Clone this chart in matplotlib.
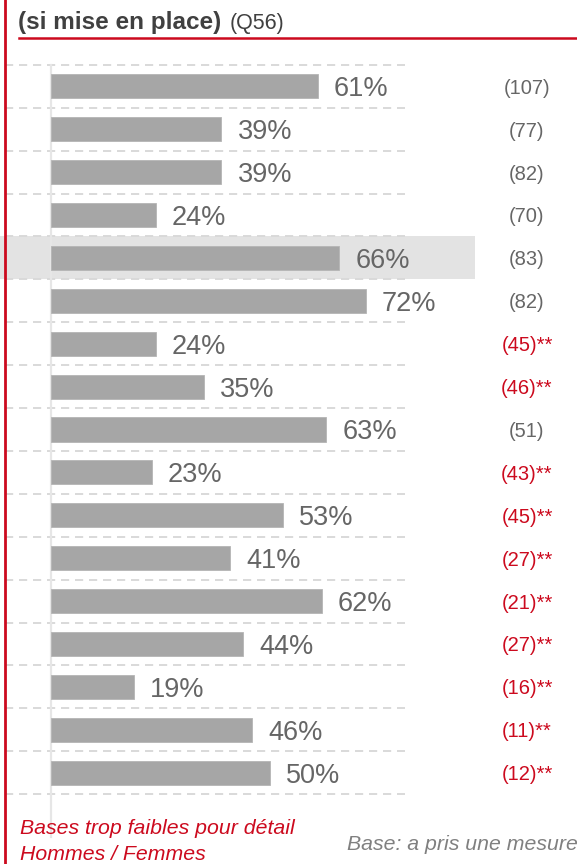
import matplotlib
matplotlib.use("Agg")
import matplotlib.pyplot as plt
from matplotlib.lines import Line2D

plt.rcParams['font.family'] = ['Liberation Sans', 'DejaVu Sans']

# ---- data ----
values = [61, 39, 39, 24, 66, 72, 24, 35, 63, 23, 53, 41, 62, 44, 19, 46, 50]
bases = [107, 77, 82, 70, 83, 82, 45, 46, 51, 43, 45, 27, 21, 27, 16, 11, 12]
low_base = [False, False, False, False, False, False, True, True, False,
            True, True, True, True, True, True, True, True]
highlight_row = 4
title_bold = "(si mise en place)"
title_q = "(Q56)"
note_lines = ["Bases trop faibles pour détail", "Hommes / Femmes"]
base_note = "Base: a pris une mesure"

# ---- colours ----
RED = "#cc0a1e"
BAR = "#a6a6a6"
GRID = "#d9d9d9"
LABEL = "#666666"

W, H = 577, 864
fig = plt.figure(figsize=(W / 100, H / 100), dpi=100)
ax = fig.add_axes([0, 0, 1, 1])

# pixel layout -> data scale
x0_px, px_per_pct = 51, 4.37
row0_px, row_px = 86.3, 42.9
ax.set_xlim(-x0_px / px_per_pct, (W - x0_px) / px_per_pct)
ax.set_ylim((H - row0_px) / row_px, -row0_px / row_px)
ax.axis("off")

def px2v(px):
    return (px - x0_px) / px_per_pct

n = len(values)
rows = list(range(n))

# highlight band
ax.axhspan(highlight_row - 0.5, highlight_row + 0.5, xmin=0, xmax=475 / W,
           color="#e3e3e3", zorder=0, lw=0)

# dashed gridlines
for b in [r - 0.5 for r in rows] + [n - 0.5]:
    ax.plot([px2v(5), px2v(405)], [b, b], color=GRID, lw=1.4,
            dashes=(4.2, 3.0), zorder=1, solid_capstyle='butt')

# faint axis line
ax.plot([0, 0], [-0.5, (837 - row0_px) / row_px], color="#e6e6e6", lw=1.6, zorder=1)

# bars
ax.barh(rows, values, height=0.56, color=BAR, edgecolor="#b5b5b5", lw=0.6, zorder=2)

# value labels
for r, v in zip(rows, values):
    ax.text(v + 16 / px_per_pct, r, f"{v}%", fontsize=19.5, color=LABEL,
            va="center_baseline", ha="left", zorder=3)

# base labels
for r, b, low in zip(rows, bases, low_base):
    txt = f"({b})**" if low else f"({b})"
    ax.text(px2v(527), r, txt, fontsize=14.5, color=RED if low else LABEL,
            va="center_baseline", ha="center", zorder=3)

# left red line and title rule
fig.add_artist(Line2D([5 / W, 5 / W], [0, 1], color=RED, lw=2.0,
                      transform=fig.transFigure))
fig.add_artist(Line2D([19 / W, 1], [1 - 38 / H, 1 - 38 / H], color=RED, lw=1.8,
                      transform=fig.transFigure))

# title
t1 = fig.text(18 / W, 1 - 29 / H, title_bold, fontsize=17.5, fontweight="bold",
              color="#404040", ha="left", va="baseline")
ax.annotate(title_q, xy=(1, 0), xycoords=t1, xytext=(8, 0),
            textcoords="offset pixels", fontsize=15.5, color="#404040",
            ha="left", va="bottom")

# footnotes
fig.text(20 / W, 1 - 827 / H, note_lines[0], fontsize=15.3, style="italic",
         color=RED, ha="left", va="center_baseline")
fig.text(20 / W, 1 - 852 / H, note_lines[1], fontsize=15.3, style="italic",
         color=RED, ha="left", va="center_baseline")
fig.text(347 / W, 1 - 843 / H, base_note, fontsize=15.3, style="italic",
         color="#808080", ha="left", va="center_baseline")

fig.savefig("out.png", dpi=100)
